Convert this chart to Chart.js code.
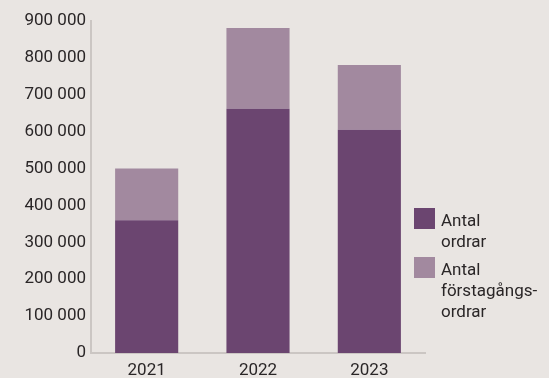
<!DOCTYPE html>
<html>
<head>
<meta charset="utf-8">
<script src="https://cdn.jsdelivr.net/npm/chart.js@4/dist/chart.umd.min.js"></script>
<style>
  html, body { margin: 0; padding: 0; background: #e9e5e2; }
  #wrap { position: relative; width: 549px; height: 378px; overflow: hidden; background: #e9e5e2; }
  canvas { position: absolute; left: 0; top: 0; }
  .leg { position: absolute; font-family: Roboto, sans-serif; font-size: 17px; line-height: 21px; color: #2a2627; }
  .sw { position: absolute; width: 21px; height: 21px; }
</style>
</head>
<body>
<div id="wrap">
  <canvas id="c" width="549" height="378"></canvas>
  <div id="legend"></div>
</div>
<script>
const categories = ["2021", "2022", "2023"];
const seriesNames = [["Antal", "ordrar"], ["Antal", "förstagångs-", "ordrar"]];
const ordrar = [360000, 662000, 605000];
const forstagangsordrar = [140000, 219000, 176000];
const yTicks = [0, 100000, 200000, 300000, 400000, 500000, 600000, 700000, 800000, 900000];
const colors = ["#6b4570", "#a2899f"];

function fmt(v) {
  return String(v).replace(/\B(?=(\d{3})+(?!\d))/g, " ");
}

const ctx = document.getElementById("c").getContext("2d");
new Chart(ctx, {
  type: "bar",
  data: {
    labels: categories,
    datasets: [
      { label: seriesNames[0].join(" "), data: ordrar, backgroundColor: colors[0], barPercentage: 0.567, categoryPercentage: 1.0 },
      { label: seriesNames[1].join(" "), data: forstagangsordrar, backgroundColor: colors[1], barPercentage: 0.567, categoryPercentage: 1.0 }
    ]
  },
  options: {
    responsive: false,
    animation: false,
    layout: { padding: { top: 21, right: 124, bottom: 0, left: 0 } },
    plugins: { legend: { display: false }, tooltip: { enabled: false } },
    scales: {
      x: {
        stacked: true,
        grid: { display: false, drawTicks: false },
        border: { color: "#cbc6c3", width: 2 },
        ticks: { color: "#2a2627", font: { family: "Roboto", size: 17 }, padding: 8 },
        afterFit: (s) => { s.height = 25; }
      },
      y: {
        stacked: true,
        min: 0,
        max: 900000,
        afterBuildTicks: (s) => { s.ticks = yTicks.map(v => ({ value: v })); },
        grid: { display: false, drawTicks: false },
        border: { color: "#cbc6c3", width: 2 },
        ticks: { color: "#2a2627", font: { family: "Roboto", size: 17 }, padding: 5, callback: (v) => fmt(v) },
        afterFit: (s) => { s.width = 91; }
      }
    }
  }
});

// HTML legend
const leg = document.getElementById("legend");
const swTops = [208, 257];
const textTops = [210, 259];
seriesNames.forEach((lines, i) => {
  const sw = document.createElement("div");
  sw.className = "sw";
  sw.style.left = "414px";
  sw.style.top = swTops[i] + "px";
  sw.style.background = colors[i];
  leg.appendChild(sw);
  const t = document.createElement("div");
  t.className = "leg";
  t.style.left = "441px";
  t.style.top = textTops[i] + "px";
  t.innerHTML = lines.join("<br>");
  leg.appendChild(t);
});
</script>
</body>
</html>
